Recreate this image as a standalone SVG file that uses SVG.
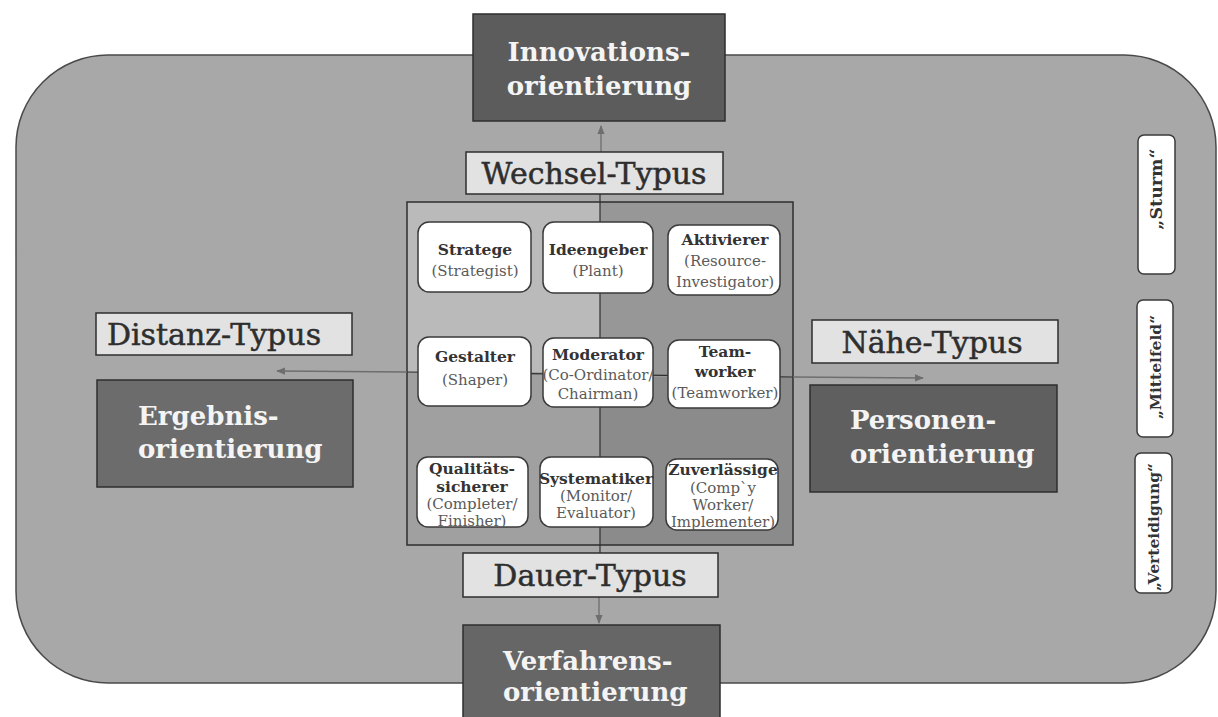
<svg xmlns="http://www.w3.org/2000/svg" width="1218" height="717" viewBox="0 0 1218 717">
<defs>
<style>
.card{fill:#ffffff;stroke:#3a3a3a;stroke-width:1.5}
.t{font-family:"DejaVu Serif","Liberation Serif",serif;font-weight:bold;font-size:15.5px;fill:#333;text-anchor:middle}
.s{font-family:"DejaVu Serif","Liberation Serif",serif;font-size:15px;fill:#5a5a5a;text-anchor:middle}
.lab{fill:#e2e2e2;stroke:#2e2e2e;stroke-width:1.5}
.labt{font-family:"DejaVu Serif","Liberation Serif",serif;font-size:30px;fill:#2e2e2e;stroke:#2e2e2e;stroke-width:0.5;text-anchor:middle}
.dark{stroke:#2e2e2e;stroke-width:1.5}
.big{font-family:"DejaVu Serif","Liberation Serif",serif;font-weight:bold;font-size:26px;fill:#f4f4f4}
.conn{stroke:#6e6e6e;stroke-width:1.3;fill:none}
.div{stroke:#2e2e2e;stroke-width:1.2;fill:none}
.side{fill:#ffffff;stroke:#3a3a3a;stroke-width:1.5}
.st{font-family:"DejaVu Serif","Liberation Serif",serif;font-weight:bold;font-size:15.5px;fill:#333;text-anchor:middle}
.st-big{font-size:17.5px}
</style>
<marker id="ah" viewBox="0 0 10 10" refX="9" refY="5" markerWidth="9" markerHeight="9" markerUnits="userSpaceOnUse" orient="auto">
<path d="M0,1 L10,5 L0,9 Z" fill="#6e6e6e"/>
</marker>
</defs>
<rect width="1218" height="717" fill="#ffffff"/>
<g id="background">
<rect x="16" y="55" width="1200" height="628" rx="92" ry="92" fill="#a8a8a8" stroke="#4a4a4a" stroke-width="1.5"/>
</g>
<g id="grid">
<rect x="407" y="202" width="193" height="170" fill="#bababa"/>
<rect x="407" y="372" width="193" height="173" fill="#a0a0a0"/>
<rect x="600" y="202" width="193" height="175" fill="#979797"/>
<rect x="600" y="377" width="193" height="168" fill="#8b8b8b"/>
<rect x="407" y="202" width="386" height="343" fill="none" stroke="#2e2e2e" stroke-width="1.5"/>
</g>
<g id="connectors">
<path class="div" d="M600,194 L600,553"/>
<path class="div" d="M407,372 L793,377"/>
<path class="conn" d="M601,152 L601,126" marker-end="url(#ah)"/>
<path class="conn" d="M599,597 L599,623" marker-end="url(#ah)"/>
<path class="conn" d="M407,372 L277,371" marker-end="url(#ah)"/>
<path class="conn" d="M793,377 L923,378" marker-end="url(#ah)"/>
</g>
<g id="innovations">
<rect class="dark" x="473" y="14" width="252" height="107" fill="#5c5c5c"/>
<text class="big" x="599" y="61" text-anchor="middle">Innovations-</text>
<text class="big" x="599" y="95" text-anchor="middle">orientierung</text>
</g>
<g id="ergebnis">
<rect class="dark" x="97" y="380" width="256" height="107" fill="#6c6c6c"/>
<text class="big" x="138" y="425">Ergebnis-</text>
<text class="big" x="138" y="458">orientierung</text>
</g>
<g id="personen">
<rect class="dark" x="810" y="385" width="247" height="107" fill="#5f5f5f"/>
<text class="big" x="850" y="429">Personen-</text>
<text class="big" x="850" y="463">orientierung</text>
</g>
<g id="verfahrens">
<rect class="dark" x="463" y="625" width="257" height="100" fill="#666666"/>
<text class="big" x="503" y="670">Verfahrens-</text>
<text class="big" x="503" y="701">orientierung</text>
</g>
<g id="wechsel">
<rect class="lab" x="466" y="152" width="257" height="42"/>
<text class="labt" x="594" y="184">Wechsel-Typus</text>
</g>
<g id="dauer">
<rect class="lab" x="463" y="553" width="255" height="44"/>
<text class="labt" x="590" y="586">Dauer-Typus</text>
</g>
<g id="distanz">
<rect class="lab" x="96" y="313" width="256" height="42"/>
<text class="labt" x="214" y="345">Distanz-Typus</text>
</g>
<g id="naehe">
<rect class="lab" x="812" y="320" width="246" height="43"/>
<text class="labt" x="932" y="353">Nähe-Typus</text>
</g>
<g id="stratege">
<rect class="card" x="418" y="222" width="113" height="70" rx="11"/>
<text class="t" x="475" y="255">Stratege</text>
<text class="s" x="475" y="276">(Strategist)</text>
</g>
<g id="ideengeber">
<rect class="card" x="543" y="222" width="110" height="71" rx="11"/>
<text class="t" x="598" y="255">Ideengeber</text>
<text class="s" x="598" y="276">(Plant)</text>
</g>
<g id="aktivierer">
<rect class="card" x="668" y="225" width="112" height="70" rx="11"/>
<text class="t" x="725" y="245">Aktivierer</text>
<text class="s" x="725" y="266">(Resource-</text>
<text class="s" x="725" y="287">Investigator)</text>
</g>
<g id="gestalter">
<rect class="card" x="418" y="337" width="113" height="69" rx="11"/>
<text class="t" x="475" y="362">Gestalter</text>
<text class="s" x="475" y="385">(Shaper)</text>
</g>
<g id="moderator">
<rect class="card" x="543" y="338" width="110" height="69" rx="11"/>
<text class="t" x="598" y="360">Moderator</text>
<text class="s" x="598" y="380">(Co-Ordinator/</text>
<text class="s" x="598" y="399">Chairman)</text>
</g>
<g id="teamworker">
<rect class="card" x="668" y="340" width="112" height="68" rx="11"/>
<text class="t" x="725" y="357">Team-</text>
<text class="t" x="725" y="377">worker</text>
<text class="s" x="725" y="398">(Teamworker)</text>
</g>
<g id="qualitaetssicherer">
<rect class="card" x="417" y="457" width="111" height="70" rx="11"/>
<text class="t" x="472" y="474">Qualitäts-</text>
<text class="t" x="472" y="492">sicherer</text>
<text class="s" x="472" y="509">(Completer/</text>
<text class="s" x="472" y="526">Finisher)</text>
</g>
<g id="systematiker">
<rect class="card" x="540" y="457" width="113" height="70" rx="11"/>
<text class="t" x="596" y="484">Systematiker</text>
<text class="s" x="596" y="501">(Monitor/</text>
<text class="s" x="596" y="518">Evaluator)</text>
</g>
<g id="zuverlaessige">
<rect class="card" x="666" y="459" width="112" height="71" rx="11"/>
<text class="t" x="723" y="475">Zuverlässige</text>
<text class="s" x="723" y="493">(Comp`y</text>
<text class="s" x="723" y="510">Worker/</text>
<text class="s" x="723" y="527">Implementer)</text>
</g>
<g id="sturm">
<rect class="side" x="1138" y="135" width="37" height="139" rx="6"/>
<text class="st st-big" transform="translate(1162,189) rotate(-90)" x="0" y="0">„Sturm“</text>
</g>
<g id="mittelfeld">
<rect class="side" x="1137" y="300" width="36" height="137" rx="6"/>
<text class="st" transform="translate(1161,367) rotate(-90)" x="0" y="0">„Mittelfeld“</text>
</g>
<g id="verteidigung">
<rect class="side" x="1135" y="453" width="37" height="140" rx="6"/>
<text class="st" transform="translate(1159,527) rotate(-90)" x="0" y="0">„Verteidigung“</text>
</g>
</svg>
